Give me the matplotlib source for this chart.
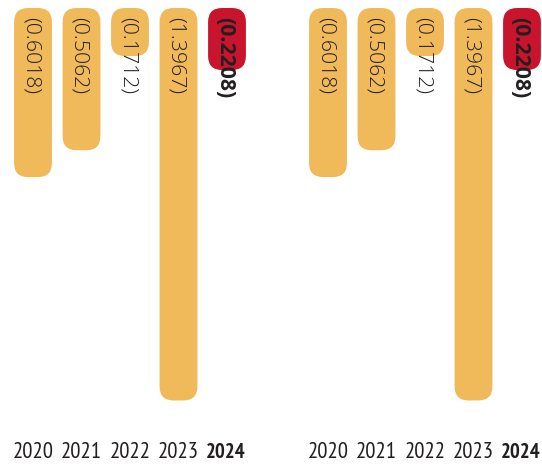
import matplotlib
matplotlib.use("Agg")
import matplotlib.pyplot as plt
from matplotlib.patches import FancyBboxPatch
from matplotlib import font_manager

years = ["2020", "2021", "2022", "2023", "2024"]
values = [-0.6018, -0.5062, -0.1712, -1.3967, -0.2208]
labels = ["(0.6018)", "(0.5062)", "(0.1712)", "(1.3967)", "(0.2208)"]
highlight = [False, False, False, False, True]

YELLOW = "#F0B95A"
RED = "#C8142C"
TEXT = "#231F20"

names = {f.name for f in font_manager.fontManager.ttflist}
def pick(cands):
    for c in cands:
        if c in names:
            return c
    return "DejaVu Sans"
year_font = pick(["PT Sans Narrow", "Fira Sans Condensed", "Roboto Condensed", "DejaVu Sans"])
lab_font = pick(["Open Sans", "Lato", "DejaVu Sans"])

W, H = 542, 465
fig = plt.figure(figsize=(W / 100, H / 100), dpi=100)
renderer = fig.canvas.get_renderer()

def fit_size(txt, fam, weight, target_px, base=16.0):
    t = fig.text(0, 0, txt, family=fam, fontweight=weight, fontsize=base)
    w = t.get_window_extent(renderer).width
    t.remove()
    return base * target_px / w

year_size = fit_size("2020", year_font, "normal", 41)
year_bold_size = min(year_size, fit_size("2024", year_font, "bold", 39.5))
lab_size = fit_size("(0.6018)", lab_font, "light", 82)
lab_size = min(lab_size, 15.3)

step = 48.5
ax_w = 5 * step
top_px = 8
bot_px = 420
scale = 281.0  # px per unit
ymax = (bot_px - top_px) / scale

bar_w = 0.78
r_px = 14

for left_px in (8.75, 303.75):
    ax = fig.add_axes([left_px / W, 1 - bot_px / H, ax_w / W, (bot_px - top_px) / H])
    ax.set_xlim(-0.5, 4.5)
    ax.set_ylim(-ymax, 0)
    ax.axis("off")
    px_x = ax_w / 5.0
    aspect = (1 / scale) / (1 / px_x)
    for i, (v, lab, hl) in enumerate(zip(values, labels, highlight)):
        h = -v
        col = RED if hl else YELLOW
        rs = r_px / px_x
        patch = FancyBboxPatch((i - bar_w / 2, v), bar_w, h,
                               boxstyle=f"round,pad=0,rounding_size={rs}",
                               mutation_aspect=aspect, fc=col, ec="none")
        ax.add_patch(patch)
        ax.text(i - 2.5 / px_x, -9 / scale, lab, rotation=-90, ha="center", va="top",
                fontsize=lab_size, family=lab_font,
                fontweight="bold" if hl else "light", color=TEXT)
        xoff = -1.5 / px_x if hl else 0
        ax.text(i + xoff, -(452.5 - top_px) / scale, years[i], ha="center", va="center",
                fontsize=year_bold_size if hl else year_size, family=year_font,
                fontweight="bold" if hl else "normal", color=TEXT, clip_on=False)

fig.savefig("out.png", dpi=100)
